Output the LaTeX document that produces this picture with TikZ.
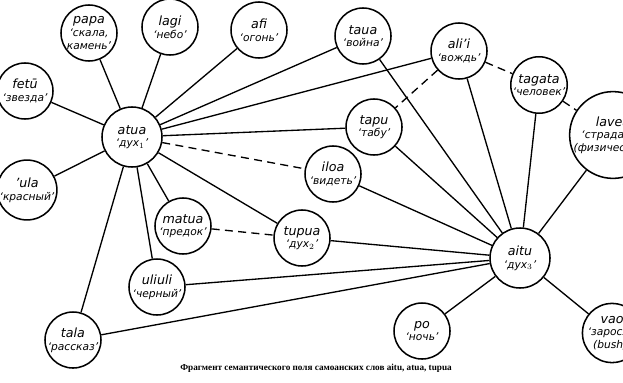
\documentclass[tikz,border=0pt]{standalone}
\usepackage{fontspec}
\setmainfont{DejaVu Sans}
\newfontfamily\capfont{Liberation Serif}
\begin{document}
\begin{tikzpicture}[x=0.75pt,y=-0.75pt,
  word/.style={circle,draw,line width=1.15pt,minimum size=42pt,inner sep=0pt,align=center,
    font=\itshape\fontsize{8}{9.5}\selectfont},
  big/.style={word,minimum size=45pt},
  link/.style={line width=1pt},
  weak/.style={line width=1pt,dash pattern=on 6pt off 4pt}]
\useasboundingbox (0,0) rectangle (623,382);
\clip (0,0) rectangle (623,382);
\newcommand{\nm}[1]{{\fontsize{9.5}{11}\selectfont #1}}
\node[word] (papa) at (89,33) {\nm{papa}\\`скала,\\камень'};
\node[word] (lagi) at (170,27) {\nm{lagi}\\`небо'};
\node[word] (afi) at (259,30) {\nm{afi}\\`огонь'};
\node[word] (fetu) at (25,91) {\nm{fetū}\\`звезда'};
\node[big] (atua) at (132,137) {\nm{atua}\\`дух$_1$'};
\node[word] (ula) at (27,190) {\nm{'ula}\\`красный'};
\node[word] (taua) at (363,36) {\nm{taua}\\`война'};
\node[word] (alii) at (459,51) {\nm{ali'i}\\`вождь'};
\node[word] (tagata) at (539,85) {\nm{tagata}\\`человек'};
\node[word] (lavea) at (613,135) {\nm{lavea}\\`страдание\\(физическое)'};
\node[word] (tapu) at (374,127) {\nm{tapu}\\`табу'};
\node[word] (iloa) at (333,174) {\nm{iloa}\\`видеть'};
\node[word] (matua) at (183,226) {\nm{matua}\\`предок'};
\node[word] (tupua) at (302,238) {\nm{tupua}\\`дух$_2$'};
\node[word] (uliuli) at (157,287) {\nm{uliuli}\\`черный'};
\node[word] (tala) at (73,340) {\nm{tala}\\`рассказ'};
\node[big] (aitu) at (520,258) {\nm{aitu}\\`дух$_3$'};
\node[word] (po) at (422,331) {\nm{po}\\`ночь'};
\node[word] (vao) at (612,333) {\nm{vao}\\`заросли\\(bush)'};
\node[font=\capfont\bfseries\fontsize{6.9}{7.5}\selectfont] (cap) at (316,368)
  {Фрагмент семантического поля самоанских слов aitu, atua, tupua};
\foreach \t in {papa,lagi,afi,fetu,ula,taua,alii,tapu,matua,tupua,uliuli,tala}
  \draw[link] (atua) -- (\t);
\foreach \t in {taua,alii,tapu,tagata,lavea,iloa,tupua,uliuli,tala,po,vao}
  \draw[link] (aitu) -- (\t);
\draw[weak] (atua) -- (iloa);
\draw[weak] (matua) -- (tupua);
\draw[weak] (alii) -- (tapu);
\draw[weak] (alii) -- (tagata);
\draw[weak] (tagata) -- (lavea);
\end{tikzpicture}
\end{document}
